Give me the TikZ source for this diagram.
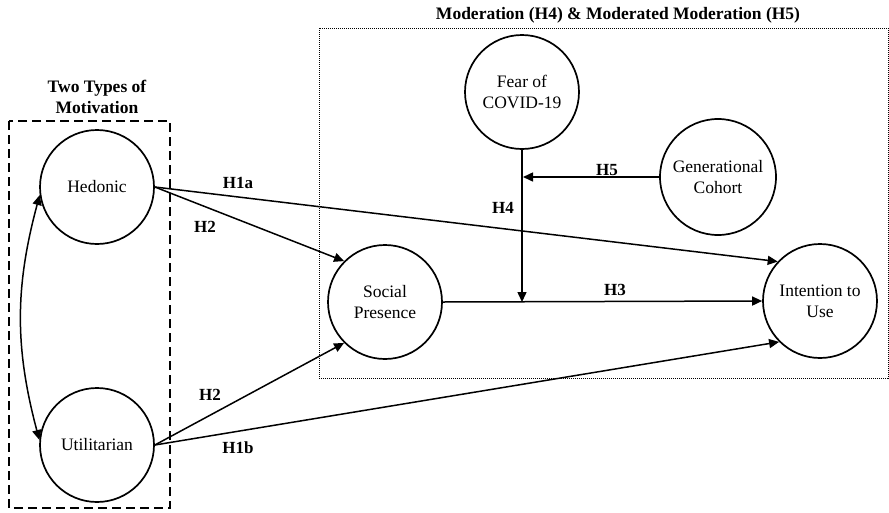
\documentclass[tikz,border=0pt]{standalone}
\usepackage{fontspec}
\setmainfont{Liberation Serif}
\usepackage{tikz}
\usetikzlibrary{arrows.meta, positioning}

\begin{document}
\begin{tikzpicture}[
  x=1pt, y=-1pt,
  var/.style={circle, draw=black, line width=1.7pt, minimum size=114pt, inner sep=0pt, align=center, font=\fontsize{17.5pt}{21pt}\selectfont},
  hyp/.style={font=\bfseries\fontsize{17pt}{21pt}\selectfont, inner sep=0pt},
  ttl/.style={font=\bfseries\fontsize{17.5pt}{21pt}\selectfont, align=center, inner sep=0pt},
  arr/.style={-{Triangle[length=10pt, width=9pt]}, line width=1.5pt}
]
\useasboundingbox (0,0) rectangle (889,512);

% grouping boxes
\draw[line width=1.4pt, dash pattern=on 9pt off 5pt] (9,121) rectangle (170,508);
\draw[line width=0.8pt, dash pattern=on 1pt off 1pt] (319,28) rectangle (888,378);
\node[ttl] (ttlmot) at (97,97) {Two Types of\\Motivation};
\node[ttl] (ttlmod) at (618,15) {Moderation (H4) \& Moderated Moderation (H5)};

% constructs
\node[var] (hed) at (97,187) {Hedonic};
\node[var] (util) at (97,445) {Utilitarian};
\node[var] (sp) at (385,302) {Social\\Presence};
\node[var] (fear) at (522,92) {Fear of\\COVID-19};
\node[var, minimum size=116pt] (gen) at (718,177) {Generational\\Cohort};
\node[var] (intent) at (820,301) {Intention to\\Use};

% paths
\draw[{Triangle[length=10pt, width=9pt]}-{Triangle[length=10pt, width=9pt]}, line width=1.5pt] (hed.188) to[bend right=15] (util.175);
\draw[arr] (hed.east) -- (intent.137);
\draw[arr] (hed.east) -- (sp.135);
\draw[arr] (util.east) -- (sp.225);
\draw[arr] (util.east) -- (intent.225);
\draw[arr] (sp.east) -- (intent.west);
\draw[arr] (fear.south) -- (fear.south |- sp.east);
\draw[arr, shorten >=1pt] (gen.west) -- (gen.west -| fear.south);

% hypothesis labels
\node[hyp] (lh1a) at (238,183) {H1a};
\node[hyp] (lh2a) at (205,227) {H2};
\node[hyp] (lh2b) at (210,395) {H2};
\node[hyp] (lh1b) at (238,448) {H1b};
\node[hyp] (lh3) at (615,290) {H3};
\node[hyp] (lh4) at (503,208) {H4};
\node[hyp] (lh5) at (607,170) {H5};
\end{tikzpicture}
\end{document}
